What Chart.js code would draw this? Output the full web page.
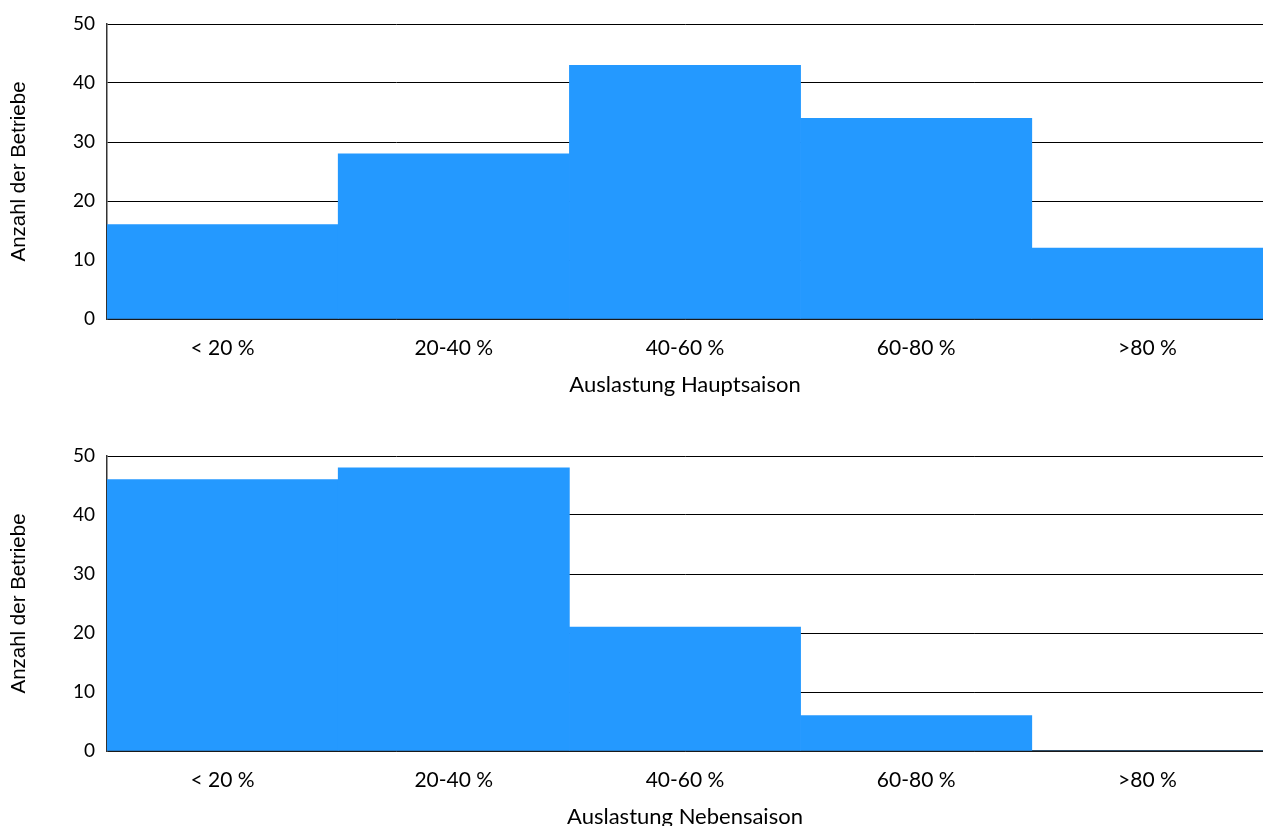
<!DOCTYPE html>
<html>
<head>
<meta charset="utf-8">
<script src="https://cdn.jsdelivr.net/npm/chart.js@4"></script>
<style>
  body { margin: 0; background: #fff; overflow: hidden; }
  .box { position: absolute; left: 0; width: 1263px; height: 410px; }
</style>
</head>
<body>
<div class="box" style="top:0"><canvas id="hauptChart" width="1263" height="410"></canvas></div>
<div class="box" style="top:432px"><canvas id="nebenChart" width="1263" height="410"></canvas></div>
<script>
// Categories and values
const categories = ["< 20 %", "20-40 %", "40-60 %", "60-80 %", ">80 %"];
const hauptsaison = [16, 28, 43, 34, 12];
const nebensaison = [46, 48, 21, 6, 0];
const yTicks = [0, 10, 20, 30, 40, 50];

Chart.defaults.font.family = "Lato, 'Open Sans', sans-serif";
Chart.defaults.font.size = 21;
Chart.defaults.color = "#000";

function makeChart(id, values, xTitle) {
  const ctx = document.getElementById(id).getContext("2d");
  return new Chart(ctx, {
    type: "bar",
    data: {
      labels: categories,
      datasets: [
        {
          data: values,
          backgroundColor: "#2499ff", // Bar color
          borderWidth: 0,
          categoryPercentage: 1, // Bars touch each other
          barPercentage: 1,
        },
      ],
    },
    options: {
      responsive: false,
      animation: false,
      layout: { padding: { top: 24, right: 0, left: 0, bottom: 0 } },
      plugins: {
        legend: { display: false },
        tooltip: { enabled: false },
      },
      scales: {
        x: {
          z: 1, // axis line on top of the bars
          afterFit: (scale) => {
            scale.height = 91;
          },
          grid: { display: false, drawTicks: false },
          border: { display: true, color: "#333", width: 1.5 },
          ticks: { padding: 17 },
          title: {
            display: true,
            text: xTitle,
            font: { size: 22 },
            padding: { top: 0, bottom: 12 },
          },
        },
        y: {
          min: 0,
          max: 50,
          afterBuildTicks: (scale) => {
            scale.ticks = yTicks.map((v) => ({ value: v }));
          },
          afterFit: (scale) => {
            scale.width = 107;
          },
          grid: { color: "#000", lineWidth: 1, drawTicks: false },
          border: { display: true, color: "#333", width: 1.5 },
          ticks: { padding: 12, font: { size: 19 } },
          title: {
            display: true,
            text: "Anzahl der Betriebe",
            font: { family: "'Liberation Sans', Arial, sans-serif", size: 20.5 },
            padding: { top: 7, bottom: 0 },
          },
        },
      },
    },
  });
}

makeChart("hauptChart", hauptsaison, "Auslastung Hauptsaison");
makeChart("nebenChart", nebensaison, "Auslastung Nebensaison");
</script>
</body>
</html>
